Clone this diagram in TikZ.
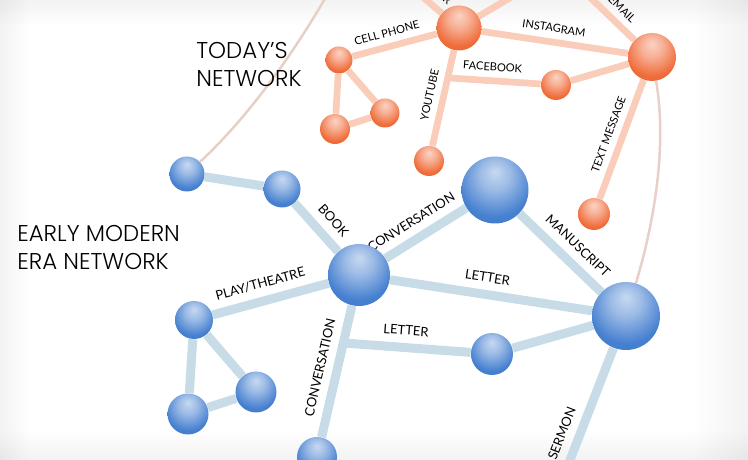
\documentclass[tikz,border=0pt]{standalone}
\usepackage{fontspec}
\usepackage{xcolor}
\usepackage{tikz}
\usetikzlibrary{positioning}
\IfFontExistsTF{Poppins Light}{\newfontfamily\headfont{Poppins Light}}{\newfontfamily\headfont{Poppins}}
\newfontfamily\labelfont{Lato}
\definecolor{orng}{RGB}{240,108,58}
\definecolor{blu}{RGB}{70,128,208}
\definecolor{oedge}{RGB}{250,204,186}
\definecolor{bedge}{RGB}{200,220,232}
\definecolor{tiecol}{RGB}{232,208,200}
\pgfdeclareradialshading{oglossy}{\pgfpoint{0bp}{14bp}}{color(0bp)=(orng!30!white); color(12bp)=(orng!55!white); color(28bp)=(orng); color(46bp)=(orng!90!black); color(64bp)=(orng!78!black)}
\pgfdeclareradialshading{bglossy}{\pgfpoint{0bp}{14bp}}{color(0bp)=(blu!30!white); color(12bp)=(blu!55!white); color(28bp)=(blu); color(46bp)=(blu!90!black); color(64bp)=(blu!78!black)}
\pgfdeclarelayer{bg}
\pgfsetlayers{bg,main}

\begin{document}
\begin{tikzpicture}[x=0.2mm,y=-0.2mm,
orb/.style={circle,shading=oglossy,inner sep=0pt,minimum size=#1},
bub/.style={circle,shading=bglossy,inner sep=0pt,minimum size=#1},
oline/.style={draw=oedge,line width=1.35mm},
bline/.style={draw=bedge,line width=1.8mm},
tie/.style={draw=tiecol,line width=0.5mm},
haze/.style={fill=black,opacity=0.005},
lbl/.style={font=\labelfont\fontsize{6.3}{7}\selectfont,text=black,sloped,above=#1,inner sep=0pt},
lbl/.default=1.3mm,
blbl/.style={lbl=1.6mm,font=\labelfont\fontsize{7.4}{8}\selectfont},
head/.style={font=\headfont\fontsize{13}{16}\selectfont,align=left,anchor=north west,inner sep=0pt}]
\useasboundingbox (0,0) rectangle (748,460);
\clip (0,0) rectangle (748,460);

\node[orb=9mm] (o1) at (459,28) {};
\node[orb=9.6mm] (o2) at (652,57) {};
\node[orb=5.4mm] (o3) at (339,60) {};
\node[orb=5.8mm] (o4) at (385,113) {};
\node[orb=6mm] (o5) at (335,129) {};
\node[orb=6mm] (o6) at (556,85) {};
\node[orb=6mm] (o7) at (429,161) {};
\node[orb=6.4mm] (o8) at (594,214) {};
\coordinate (ofb) at (450,78);
\coordinate (otw) at (395,-27);
\coordinate (oup) at (535,-17);
\coordinate (oem) at (570,-22);

\node[bub=7mm] (b1) at (187,174) {};
\node[bub=7.4mm] (b2) at (282,189) {};
\node[bub=12.4mm] (b3) at (359,275) {};
\node[bub=13.4mm] (b4) at (495,190) {};
\node[bub=13.6mm] (b5) at (626,316) {};
\node[bub=8.4mm] (b6) at (492,354) {};
\node[bub=7.6mm] (b7) at (194,320) {};
\node[bub=8.2mm] (b8) at (256,392) {};
\node[bub=8.2mm] (b9) at (188,414) {};
\node[bub=8mm] (b10) at (317,457) {};
\coordinate (bltr) at (344,343);
\coordinate (bser) at (556,496);
\coordinate (ctop) at (330,-10);

\node[head] (today) at (196,42) {TODAY’S\\NETWORK};
\node[head] (early) at (17,225) {EARLY MODERN\\ERA NETWORK};

\begin{pgfonlayer}{bg}
\foreach \k in {1,...,12} {
  \fill[haze] (0,0) rectangle (748,2.2*\k);
  \fill[haze] (0,0) rectangle (2.4*\k,460);
  \fill[haze] (748-4.5*\k,0) rectangle (748,460);
  \fill[haze] (0,460-2.4*\k) rectangle (748,460);
}
\draw[tie] (b1) .. controls (245,120) and (290,60) .. (ctop);
\draw[tie] (o2) .. controls (668,150) and (652,230) .. (b5);
\path[oline] (o3) edge node[lbl,pos=0.45]{CELL PHONE} (o1);
\path[oline] (o1) edge node[lbl,pos=0.48]{INSTAGRAM} (o2);
\path[oline] (o7) edge node[lbl,pos=0.5]{YOUTUBE} (o1);
\path[oline] (ofb) edge node[lbl,pos=0.46]{FACEBOOK} (o6);
\path[oline] (o6) edge (o2);
\path[oline] (o8) edge node[lbl,pos=0.5]{TEXT MESSAGE} (o2);
\path[oline] (otw) edge node[lbl,pos=0.6]{TWITTER} (o1);
\path[oline] (o1) edge (oup);
\path[oline] (oem) edge node[lbl,pos=0.66]{EMAIL} (o2);
\path[oline] (o3) edge (o4) (o3) edge (o5) (o5) edge (o4);
\path[bline] (b1) edge (b2);
\path[bline] (b2) edge node[blbl,pos=0.6]{BOOK} (b3);
\path[bline] (b3) edge node[blbl,pos=0.43]{CONVERSATION} (b4);
\path[bline] (b4) edge node[blbl,pos=0.57]{MANUSCRIPT} (b5);
\path[bline] (b3) edge node[blbl,pos=0.47]{LETTER} (b5);
\path[bline] (b7) edge node[blbl,pos=0.45]{PLAY/THEATRE} (b3);
\path[bline] (b10) edge node[blbl,pos=0.5]{CONVERSATION} (b3);
\path[bline] (bltr) edge node[blbl,pos=0.48]{LETTER} (b6);
\path[bline] (b6) edge (b5);
\path[bline] (bser) edge node[blbl,pos=0.38]{SERMON} (b5);
\path[bline] (b7) edge (b8) (b7) edge (b9) (b9) edge (b8);
\end{pgfonlayer}
\end{tikzpicture}
\end{document}
